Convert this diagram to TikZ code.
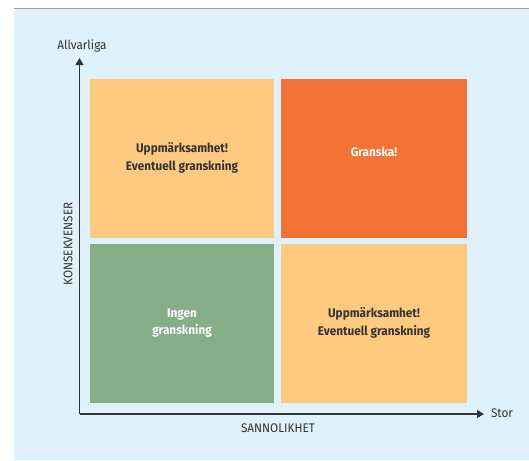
\documentclass[tikz,border=0pt]{standalone}
\usepackage{fontspec}
\setmainfont{Fira Sans}[FakeStretch=0.94]
\usetikzlibrary{arrows.meta}
\definecolor{bgblue}{HTML}{DFF1FA}
\definecolor{paleorange}{HTML}{FDCA7F}
\definecolor{hotorange}{HTML}{F37335}
\definecolor{sagegreen}{HTML}{85AE88}
\definecolor{inkgray}{HTML}{333333}
\begin{document}
\begin{tikzpicture}[x=1pt, y=-1pt,
    quadrant/.style={minimum width=184pt, minimum height=159pt, inner sep=0pt,
        align=center, font=\bfseries\fontsize{12.5}{17.5}\selectfont},
    axislabel/.style={text=inkgray, font=\fontsize{12.5}{14}\selectfont, inner sep=0pt}]
    \useasboundingbox (0,0) rectangle (529,460);
    % Background panel
    \fill[white] (0,0) rectangle (529,460);
    \fill[bgblue] (14,9) rectangle (529,460);
    \draw[gray!75, line width=1.5pt] (14,8.5) -- (529,8.5);
    % Draw the quadrants
    \node[quadrant, fill=paleorange, text=inkgray] (Q1) at (182,158) {\\[-8pt]Uppmärksamhet!\\Eventuell granskning};
    \node[quadrant, fill=hotorange, text=white, minimum width=186pt] (Q2) at (374,158) {Granska!\\[-5pt]};
    \node[quadrant, fill=sagegreen, text=white] (Q3) at (182,323) {Ingen\\granskning};
    \node[quadrant, fill=paleorange, text=inkgray, minimum width=186pt] (Q4) at (374,323) {Uppmärksamhet!\\Eventuell granskning};
    % Draw the axes
    \coordinate (Origin) at (79.5,414);
    \coordinate (Top) at (79.5,58);
    \coordinate (Right) at (484,414);
    \draw[inkgray, line width=1.4pt, -{Triangle[length=7pt, width=8pt]}] (Origin) -- (Top);
    \draw[inkgray, line width=1.4pt, -{Triangle[length=7pt, width=8pt]}] (Origin) -- (Right);
    % Axis labels
    \node[axislabel] (high) at (82,46) {Allvarliga};
    \node[axislabel] (large) at (502,413) {Stor};
    \node[axislabel] (yname) at (68,244) [rotate=90] {KONSEKVENSER};
    \node[axislabel] (xname) at (278,428) {SANNOLIKHET};
\end{tikzpicture}
\end{document}
